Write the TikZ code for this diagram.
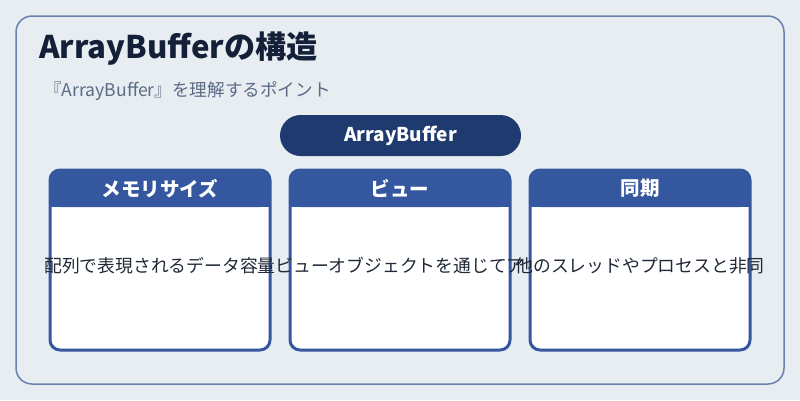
\documentclass[tikz,border=0pt]{standalone}
\usepackage{fontspec}
\setmainfont{Noto Sans CJK JP}
\definecolor{bg}{HTML}{E8EDF2}
\definecolor{frame}{HTML}{6A82AE}
\definecolor{titlec}{HTML}{132038}
\definecolor{subc}{HTML}{5B6B86}
\definecolor{pillc}{HTML}{1F3A6E}
\definecolor{headc}{HTML}{3557A0}
\definecolor{bodyc}{HTML}{1F2937}
\tikzset{
  hdr/.style={text=white,font=\fontsize{19.5}{21}\selectfont\bfseries,anchor=center},
  bodytxt/.style={text=bodyc,font=\fontsize{17.8}{20}\selectfont,anchor=center},
}
\begin{document}
\begin{tikzpicture}[x=1pt,y=-1pt]
\useasboundingbox (0,0) rectangle (800,400);
\fill[bg] (0,0) rectangle (800,400);
\draw[frame,line width=1.5pt,rounded corners=16pt] (16,16) rectangle (784,384);
\node[anchor=base west,text=titlec,font=\fontsize{31.2}{34}\selectfont\bfseries,inner sep=0pt] (title) at (39,58) {ArrayBufferの構造};
\node[anchor=base west,text=subc,font=\fontsize{17.6}{19}\selectfont,inner sep=0pt] (sub) at (44,96) {『ArrayBuffer』を理解するポイント};
\fill[pillc,rounded corners=20.5pt] (280,115) rectangle (521,156);
\node[text=white,font=\fontsize{19}{21}\selectfont\bfseries] (pill) at (400.5,135.5) {ArrayBuffer};
\foreach \x/\h/\n in {50/メモリサイズ/a,290/ビュー/b,530/同期/c}{
  \fill[white,rounded corners=10pt] (\x,170) rectangle ++(220,180);
  \fill[headc,rounded corners=10pt] (\x,170) rectangle ++(220,37);
  \fill[headc] (\x,195) rectangle ++(220,12);
  \draw[headc,line width=3pt,rounded corners=10pt] (\x,170) rectangle ++(220,180);
  \node[hdr] (h\n) at (\x+110,188.5) {\h};
}
\node[bodytxt] (ta) at (160,266) {配列で表現されるデータ容量};
\node[bodytxt] (tb) at (400,266) {ビューオブジェクトを通じてア};
\node[bodytxt] (tc) at (640,266) {他のスレッドやプロセスと非同};
\end{tikzpicture}
\end{document}
